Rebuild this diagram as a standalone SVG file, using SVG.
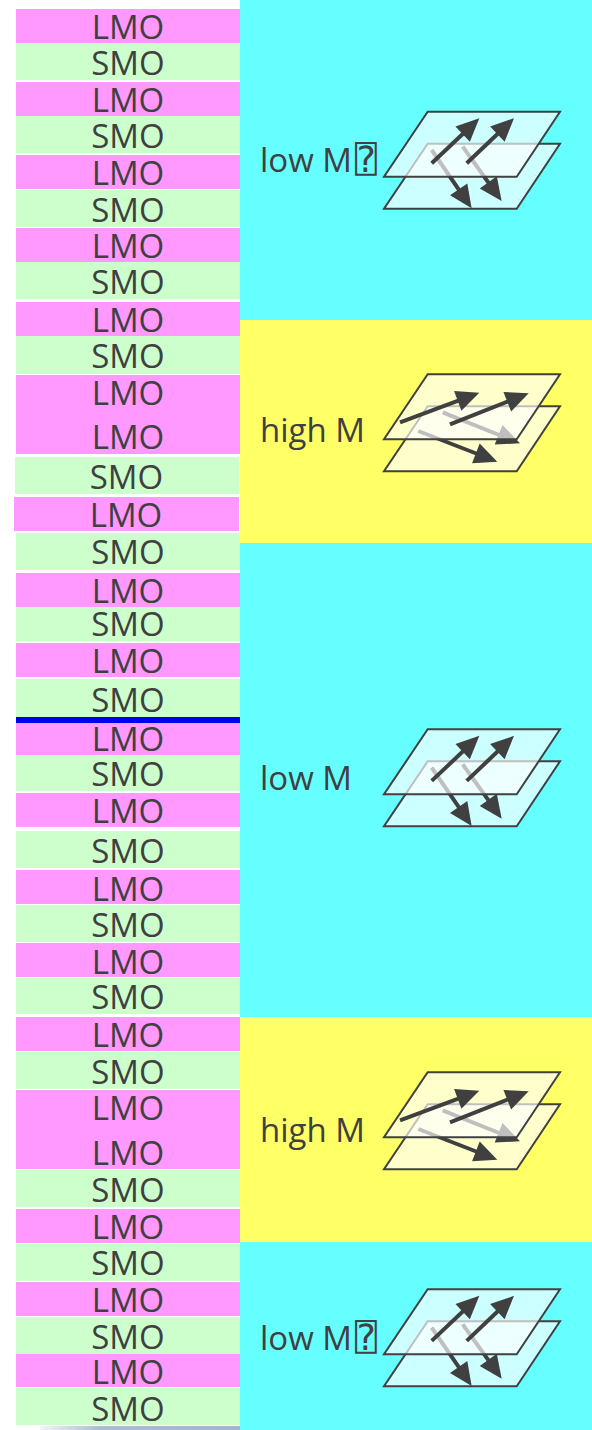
<svg xmlns="http://www.w3.org/2000/svg" xmlns:xlink="http://www.w3.org/1999/xlink" width="592" height="1430" viewBox="0 0 592 1430">
  <style>
    .lmo { fill: #ff99ff; }
    .smo { fill: #ccffcc; }
    .lbl { font-family: "Open Sans", "Noto Sans", "Liberation Sans", sans-serif; font-size: 33px; fill: #404040; }
    .mid { text-anchor: middle; }
    .low { fill: #66ffff; }
    .high { fill: #ffff66; }
    .plane { fill: #ffffff; fill-opacity: 0.667; stroke: #404040; stroke-width: 2; stroke-linejoin: miter; }
    .arr { fill: none; stroke: #404040; stroke-width: 4; marker-end: url(#head); }
    .tofu { font-family: "DejaVu Sans Mono", "DejaVu Sans", monospace; font-size: 36px; }
  </style>
  <defs>
    <marker id="head" markerUnits="userSpaceOnUse" markerWidth="23" markerHeight="21" refX="10" refY="10.5" orient="auto" overflow="visible">
      <path d="M0,0 L23,10.5 L0,21 Z" fill="#404040"/>
    </marker>
    <!-- two stacked planes, spins pointing up/down alternately -->
    <g id="icon-low">
      <polygon class="plane" points="43.7,32 176,32 132.7,97 0,97"/>
      <line class="arr" x1="47.7" y1="38.3" x2="80.3" y2="85.9"/>
      <line class="arr" x1="78.7" y1="35" x2="110.1" y2="78.8"/>
      <polygon class="plane" points="43.7,0 176,0 132.7,65 0,65"/>
      <line class="arr" x1="47.7" y1="51.6" x2="85.9" y2="15.5"/>
      <line class="arr" x1="82.7" y1="51.6" x2="120.6" y2="15.5"/>
    </g>
    <!-- two stacked planes, spins tilted in-plane -->
    <g id="icon-high">
      <polygon class="plane" points="43.7,32 176,32 132.7,97 0,97"/>
      <line class="arr" x1="34.3" y1="56.7" x2="101.2" y2="82.7"/>
      <line class="arr" x1="58.7" y1="38" x2="123.9" y2="64.2"/>
      <polygon class="plane" points="43.7,0 176,0 132.7,65 0,65"/>
      <line class="arr" x1="16" y1="48" x2="83.1" y2="23"/>
      <line class="arr" x1="66" y1="50" x2="132.6" y2="23.8"/>
    </g>
    <linearGradient id="edge" x1="0" y1="0" x2="1" y2="0">
      <stop offset="0" stop-color="#f2f4f8"/>
      <stop offset="0.3" stop-color="#aebcd4"/>
      <stop offset="1" stop-color="#a4b4cc"/>
    </linearGradient>
  </defs>

  <rect x="0" y="0" width="592" height="1430" fill="#ffffff"/>

  <!-- right-hand regions -->
  <g id="region-low-1">
    <rect class="low" x="240" y="0" width="352" height="320"/>
    <text class="lbl" x="260" y="172">low M<tspan class="tofu" dx="3">⍰</tspan></text>
    <use xlink:href="#icon-low" href="#icon-low" transform="translate(384,111.7)"/>
  </g>
  <g id="region-high-1">
    <rect class="high" x="240" y="320" width="352" height="223"/>
    <text class="lbl" x="260" y="441.5">high M</text>
    <use xlink:href="#icon-high" href="#icon-high" transform="translate(384,374.3)"/>
  </g>
  <g id="region-low-2">
    <rect class="low" x="240" y="543" width="352" height="474"/>
    <text class="lbl" x="260" y="790">low M</text>
    <use xlink:href="#icon-low" href="#icon-low" transform="translate(384,729.3)"/>
  </g>
  <g id="region-high-2">
    <rect class="high" x="240" y="1017" width="352" height="225"/>
    <text class="lbl" x="260" y="1141.5">high M</text>
    <use xlink:href="#icon-high" href="#icon-high" transform="translate(384,1072.3)"/>
  </g>
  <g id="region-low-3">
    <rect class="low" x="240" y="1242" width="352" height="188"/>
    <text class="lbl" x="260" y="1350">low M<tspan class="tofu" dx="3">⍰</tspan></text>
    <use xlink:href="#icon-low" href="#icon-low" transform="translate(384,1289.3)"/>
  </g>

  <!-- left-hand layer stack -->
  <g id="row-01"><rect class="lmo" x="16" y="9" width="224" height="34"/><text class="lbl mid" x="128" y="39">LMO</text></g>
  <g id="row-02"><rect class="smo" x="16" y="43" width="224" height="37"/><text class="lbl mid" x="128" y="74.5">SMO</text></g>
  <g id="row-03"><rect class="lmo" x="16" y="82" width="224" height="34"/><text class="lbl mid" x="128" y="112">LMO</text></g>
  <g id="row-04"><rect class="smo" x="16" y="116" width="224" height="37"/><text class="lbl mid" x="128" y="147.5">SMO</text></g>
  <g id="row-05"><rect class="lmo" x="16" y="155" width="224" height="34"/><text class="lbl mid" x="128" y="185">LMO</text></g>
  <g id="row-06"><rect class="smo" x="16" y="190" width="224" height="37"/><text class="lbl mid" x="128" y="222">SMO</text></g>
  <g id="row-07"><rect class="lmo" x="16" y="228" width="224" height="34"/><text class="lbl mid" x="128" y="258">LMO</text></g>
  <g id="row-08"><rect class="smo" x="16" y="262" width="224" height="37"/><text class="lbl mid" x="128" y="293.5">SMO</text></g>
  <g id="row-09"><rect class="lmo" x="16" y="302" width="224" height="34"/><text class="lbl mid" x="128" y="332">LMO</text></g>
  <g id="row-10"><rect class="smo" x="16" y="336" width="224" height="38"/><text class="lbl mid" x="128" y="368">SMO</text></g>
  <g id="row-11"><rect class="lmo" x="16" y="375" width="224" height="79"/><text class="lbl mid" x="128" y="405">LMO</text><text class="lbl mid" x="128" y="449">LMO</text></g>
  <g id="row-12"><rect class="smo" x="15" y="457" width="224" height="37"/><text class="lbl mid" x="126.5" y="489">SMO</text></g>
  <g id="row-13"><rect class="lmo" x="14" y="497" width="225" height="34"/><text class="lbl mid" x="126" y="527">LMO</text></g>
  <g id="row-14"><rect class="smo" x="16" y="533" width="224" height="37"/><text class="lbl mid" x="128" y="564">SMO</text></g>
  <g id="row-15"><rect class="lmo" x="16" y="573" width="224" height="34"/><text class="lbl mid" x="128" y="603">LMO</text></g>
  <g id="row-16"><rect class="smo" x="16" y="607" width="224" height="34"/><text class="lbl mid" x="128" y="635.5">SMO</text></g>
  <g id="row-17"><rect class="lmo" x="16" y="643" width="224" height="34"/><text class="lbl mid" x="128" y="673">LMO</text></g>
  <g id="row-18"><rect class="smo" x="16" y="679" width="224" height="38"/><text class="lbl mid" x="128" y="711.5">SMO</text></g>
  <g id="divider"><rect x="16" y="717" width="224" height="6" fill="#0000f0"/></g>
  <g id="row-19"><rect class="lmo" x="16" y="723" width="224" height="32"/><text class="lbl mid" x="128" y="750.5">LMO</text></g>
  <g id="row-20"><rect class="smo" x="16" y="755" width="224" height="36"/><text class="lbl mid" x="128" y="786">SMO</text></g>
  <g id="row-21"><rect class="lmo" x="16" y="793" width="224" height="34"/><text class="lbl mid" x="128" y="823">LMO</text></g>
  <g id="row-22"><rect class="smo" x="16" y="831" width="224" height="37"/><text class="lbl mid" x="128" y="862.5">SMO</text></g>
  <g id="row-23"><rect class="lmo" x="16" y="870" width="224" height="34"/><text class="lbl mid" x="128" y="900.5">LMO</text></g>
  <g id="row-24"><rect class="smo" x="16" y="905" width="224" height="37"/><text class="lbl mid" x="128" y="936.5">SMO</text></g>
  <g id="row-25"><rect class="lmo" x="16" y="943" width="224" height="34"/><text class="lbl mid" x="128" y="974">LMO</text></g>
  <g id="row-26"><rect class="smo" x="16" y="978" width="224" height="36"/><text class="lbl mid" x="128" y="1008.5">SMO</text></g>
  <g id="row-27"><rect class="lmo" x="16" y="1017" width="224" height="34"/><text class="lbl mid" x="128" y="1047">LMO</text></g>
  <g id="row-28"><rect class="smo" x="16" y="1052" width="224" height="37"/><text class="lbl mid" x="128" y="1083.5">SMO</text></g>
  <g id="row-29"><rect class="lmo" x="16" y="1090" width="224" height="79"/><text class="lbl mid" x="128" y="1120">LMO</text><text class="lbl mid" x="128" y="1165">LMO</text></g>
  <g id="row-30"><rect class="smo" x="16" y="1170" width="224" height="37"/><text class="lbl mid" x="128" y="1201.5">SMO</text></g>
  <g id="row-31"><rect class="lmo" x="16" y="1209" width="224" height="34"/><text class="lbl mid" x="128" y="1239">LMO</text></g>
  <g id="row-32"><rect class="smo" x="16" y="1244" width="224" height="37"/><text class="lbl mid" x="128" y="1275">SMO</text></g>
  <g id="row-33"><rect class="lmo" x="16" y="1282" width="224" height="34"/><text class="lbl mid" x="128" y="1312">LMO</text></g>
  <g id="row-34"><rect class="smo" x="16" y="1317" width="224" height="37"/><text class="lbl mid" x="128" y="1348.5">SMO</text></g>
  <g id="row-35"><rect class="lmo" x="16" y="1354" width="224" height="33"/><text class="lbl mid" x="128" y="1383.5">LMO</text></g>
  <g id="row-36"><rect class="smo" x="16" y="1388" width="224" height="37"/><text class="lbl mid" x="128" y="1420.5">SMO</text></g>

  <!-- faint edge strip along the bottom -->
  <rect x="40" y="1426" width="200" height="4" fill="url(#edge)"/>
</svg>
